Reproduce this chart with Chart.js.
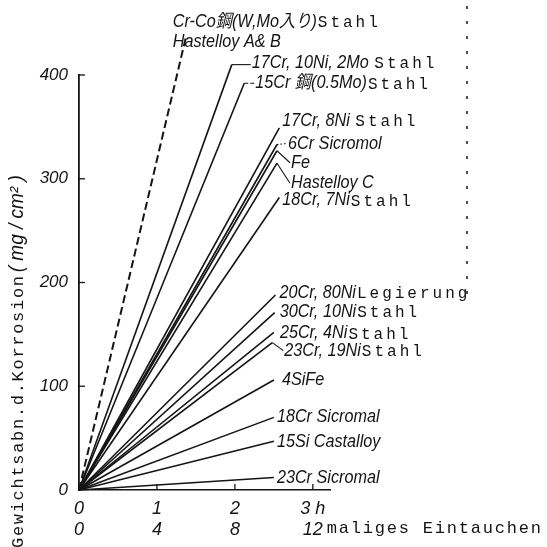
<!DOCTYPE html>
<html lang="de">
<head>
  <meta charset="UTF-8" />
  <title>Gewichtsabnahme durch Korrosion</title>
  <script src="https://cdn.jsdelivr.net/npm/chart.js"></script>
  <style>
    body {
      margin: 0;
      padding: 0;
      background: #fff;
    }
    canvas {
      display: block;
    }
  </style>
</head>
<body>
  <canvas id="grafico" width="547" height="547"></canvas>

  <script>
    // Werte: Endpunkt jeder Geraden (Stunden, mg/cm²), Start im Ursprung
    const seriesNames = [
      'Cr-Co鋼(W,Mo入り)Stahl / Hastelloy A&B',
      '17Cr, 10Ni, 2Mo Stahl',
      '15Cr 鋼(0.5Mo)Stahl',
      '17Cr, 8Ni Stahl',
      '6Cr Sicromol',
      'Fe',
      'Hastelloy C',
      '18Cr, 7Ni Stahl',
      '20Cr, 80Ni Legierung',
      '30Cr, 10Ni Stahl',
      '25Cr, 4Ni Stahl',
      '23Cr, 19Ni Stahl',
      '4SiFe',
      '18Cr Sicromal',
      '15Si Castalloy',
      '23Cr Sicromal'
    ];
    const endHours = [1.37, 1.96, 2.12, 2.57, 2.54, 2.54, 2.54, 2.57, 2.52, 2.51, 2.50, 2.48, 2.50, 2.50, 2.50, 2.50];
    const endLoss = [436, 410, 392, 349, 333, 327, 315, 282, 188, 171, 152, 142, 106, 70, 47, 12];

    const hourTicks = ['0', '1', '2', '3 h'];
    const immersionTicks = { 0: '0', 4: '4', 8: '8', 12: '12' };
    const immersionsPerHour = 4;
    const xAxisLabel = 'maliges Eintauchen';
    const yAxisLabel = ['Gewichtsabn.d.Korrosion', '( mg / cm² )'];

    // Beschriftung: [kursiver Teil, Schreibmaschinen-Teil] je Zeile
    const labelLines = [
      [['Cr-Co鋼(W,Mo入り)', 'Stahl'], ['Hastelloy A& B', '']],
      [['17Cr, 10Ni, 2Mo ', 'Stahl']],
      [['15Cr 鋼(0.5Mo)', 'Stahl']],
      [['17Cr, 8Ni ', 'Stahl']],
      [['6Cr Sicromol', '']],
      [['Fe', '']],
      [['Hastelloy C', '']],
      [['18Cr, 7Ni', 'Stahl']],
      [['20Cr, 80Ni', 'Legierung']],
      [['30Cr, 10Ni', 'Stahl']],
      [['25Cr, 4Ni', 'Stahl']],
      [['23Cr, 19Ni', 'Stahl']],
      [['4SiFe', '']],
      [['18Cr Sicromal', '']],
      [['15Si Castalloy', '']],
      [['23Cr Sicromal', '']]
    ];
    // Lage der Beschriftung relativ zum Linienende (px) und Art der Hinweislinie
    const labelStyle = [
      { dx: -13, dy: -16, lead: null },
      { dx: 20, dy: -2, lead: 'solid' },
      { dx: 11, dy: 0, lead: 'dash' },
      { dx: 3, dy: -7, lead: null },
      { dx: 11, dy: -1, lead: 'dot' },
      { dx: 14, dy: 12, lead: 'solid' },
      { dx: 14, dy: 20, lead: 'solid' },
      { dx: 3, dy: 3, lead: null },
      { dx: 4, dy: -2, lead: null },
      { dx: 5, dy: -1, lead: null },
      { dx: 6, dy: 1, lead: null },
      { dx: 12, dy: 8, lead: 'solid' },
      { dx: 8, dy: 0, lead: null },
      { dx: 3, dy: 0, lead: null },
      { dx: 3, dy: 1, lead: null },
      { dx: 3, dy: 0, lead: null }
    ];

    const X_MAX = 3.22;
    const INK = '#141414';
    const ITALIC = '"Liberation Sans", "Noto Sans CJK JP", sans-serif';
    const MONO = '"Liberation Mono", "DejaVu Sans Mono", monospace';

    function drawMono(ctx, text, x, y, size, advance) {
      ctx.font = size + 'px ' + MONO;
      for (const ch of text) {
        ctx.fillText(ch, x, y);
        x += advance;
      }
      return x;
    }

    function drawItalic(ctx, text, x, y, size, squeeze) {
      ctx.font = 'italic ' + size + 'px ' + ITALIC;
      const w = ctx.measureText(text).width * squeeze;
      ctx.save();
      ctx.translate(x, y);
      ctx.scale(squeeze, 1);
      ctx.fillText(text, 0, 0);
      ctx.restore();
      return x + w;
    }

    const beschriftung = {
      id: 'beschriftung',
      afterDatasetsDraw(chart) {
        const ctx = chart.ctx;
        const sx = chart.scales.x, sy = chart.scales.y, sx2 = chart.scales.x2;
        ctx.save();
        ctx.fillStyle = INK;
        ctx.strokeStyle = INK;
        ctx.textBaseline = 'middle';
        ctx.textAlign = 'left';

        // Teilstriche nach innen
        ctx.lineWidth = 1.3;
        [100, 200, 300, 400].forEach(v => {
          const py = sy.getPixelForValue(v);
          ctx.beginPath();
          ctx.moveTo(sx.left, py);
          ctx.lineTo(sx.left + 6, py);
          ctx.stroke();
        });
        [1, 2, 3].forEach(v => {
          const px = sx.getPixelForValue(v);
          ctx.beginPath();
          ctx.moveTo(px, sy.bottom);
          ctx.lineTo(px, sy.bottom - 6);
          ctx.stroke();
        });

        // Beschriftung der Geraden
        endHours.forEach((h, i) => {
          const ex = sx.getPixelForValue(h);
          const ey = sy.getPixelForValue(endLoss[i]);
          const st = labelStyle[i];
          const lx = ex + st.dx, ly = ey + st.dy;
          if (st.lead) {
            ctx.lineWidth = 1.1;
            ctx.setLineDash(st.lead === 'dot' ? [1.5, 2] : st.lead === 'dash' ? [4, 2] : []);
            ctx.beginPath();
            ctx.moveTo(ex, ey);
            if (st.lead === 'solid' && Math.abs(st.dy) < 4) {
              ctx.lineTo(lx - 1, ey);
            } else {
              ctx.lineTo(lx - 1, ly);
            }
            ctx.stroke();
            ctx.setLineDash([]);
          }
          labelLines[i].forEach((line, k) => {
            const yy = ly + k * 20;
            let x = drawItalic(ctx, line[0], lx, yy, 18, 0.9);
            if (line[1]) drawMono(ctx, line[1], x + 1, yy + 1, 16, 12.6);
          });
        });

        // zweite x-Beschriftung
        drawMono(ctx, xAxisLabel, sx2.getPixelForValue(12) + 14, 528, 17, 12);

        // y-Achsentitel, gedreht
        ctx.save();
        ctx.translate(18, 548);
        ctx.rotate(-Math.PI / 2);
        let t = drawMono(ctx, yAxisLabel[0], 0, 0, 17, 11.9);
        drawItalic(ctx, yAxisLabel[1], t + 2, -1, 20, 0.95);
        ctx.restore();

        // Punktierte Linie am rechten Rand (Vorlage)
        ctx.lineWidth = 1.5;
        ctx.setLineDash([3, 12]);
        ctx.beginPath();
        ctx.moveTo(467, 6);
        ctx.lineTo(467, 300);
        ctx.stroke();
        ctx.restore();
      }
    };

    const datasets = seriesNames.map((name, i) => ({
      label: name,
      data: [{ x: 0, y: 0 }, { x: endHours[i], y: endLoss[i] }],
      showLine: true,
      borderColor: INK,
      borderWidth: i === 0 ? 2 : 1.6,
      borderDash: i === 0 ? [8, 4] : [],
      pointRadius: 0,
      clip: false
    }));

    Chart.defaults.font.family = ITALIC;
    Chart.defaults.color = INK;

    new Chart(document.getElementById('grafico'), {
      type: 'scatter',
      data: { datasets: datasets },
      options: {
        responsive: false,
        animation: false,
        layout: { padding: { top: 75, right: 217, bottom: 7, left: 0 } },
        plugins: {
          legend: { display: false },
          tooltip: { enabled: false }
        },
        scales: {
          x: {
            type: 'linear',
            position: 'bottom',
            weight: 0,
            min: 0,
            max: X_MAX,
            grid: { display: false },
            border: { display: true, color: INK, width: 1.6 },
            ticks: {
              stepSize: 1,
              includeBounds: false,
              maxRotation: 0,
              padding: 0,
              font: { size: 18, style: 'italic' },
              callback: v => hourTicks[v]
            },
            afterFit: s => { s.height = 25; }
          },
          x2: {
            type: 'linear',
            position: 'bottom',
            weight: 1,
            min: 0,
            max: X_MAX * immersionsPerHour,
            grid: { display: false },
            border: { display: false },
            ticks: {
              stepSize: 4,
              includeBounds: false,
              maxRotation: 0,
              padding: -4,
              font: { size: 18, style: 'italic' },
              callback: v => immersionTicks[v]
            },
            afterFit: s => { s.height = 25; }
          },
          y: {
            min: 0,
            max: 400,
            grid: { display: false },
            border: { display: true, color: INK, width: 1.8 },
            ticks: {
              stepSize: 100,
              padding: 3,
              font: { size: 17, style: 'italic' }
            },
            afterFit: s => { s.width = 79; }
          }
        }
      },
      plugins: [beschriftung]
    });
  </script>
</body>
</html>
